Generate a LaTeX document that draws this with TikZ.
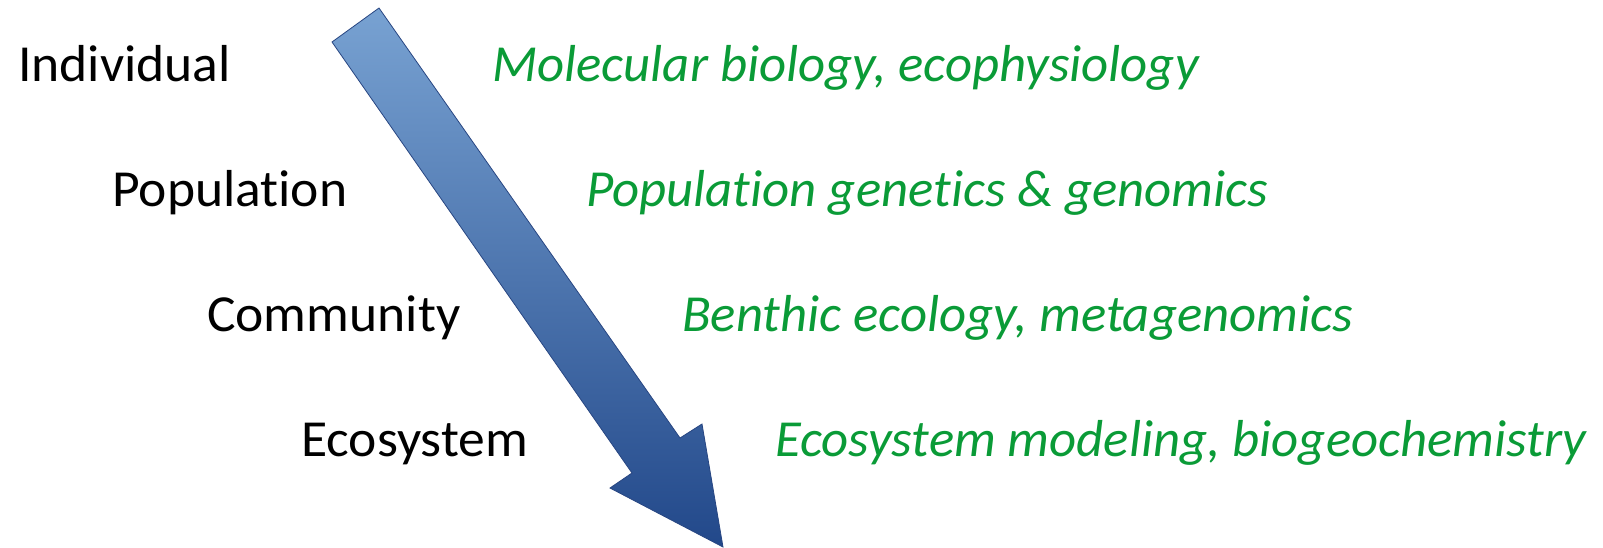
\documentclass[tikz,border=0pt]{standalone}
\usepackage{fontspec}
\setmainfont{Carlito}
\newfontfamily\lvlfont[FakeStretch=1.03,Ligatures={NoCommon,NoRare,NoContextual},Contextuals={NoAlternate}]{Carlito}
\newfontfamily\fldfont[FakeStretch=1.015,Ligatures={NoCommon,NoRare,NoContextual},Contextuals={NoAlternate}]{Carlito}
\definecolor{lvlgreen}{RGB}{10,155,55}
\definecolor{arrtop}{RGB}{120,162,210}
\definecolor{arrbot}{RGB}{34,72,138}
\definecolor{arredge}{RGB}{40,70,130}
\begin{document}
\begin{tikzpicture}[x=1pt,y=-1pt,
  level/.style={anchor=base west,inner sep=0pt,font=\lvlfont\fontsize{52}{60}\selectfont,text=black},
  field/.style={anchor=base west,inner sep=0pt,font=\fldfont\fontsize{52}{60}\selectfont\itshape,text=lvlgreen}]
\useasboundingbox (0,0) rectangle (1603,547);
\shade[top color=arrtop,bottom color=arrbot,draw=arredge,line width=0.8pt]
  (332,42) -- (379,8) -- (680,438) -- (702,424) -- (723,547) -- (610,488) -- (632,473) -- cycle;
\node[level] (ind) at (18,81) {Individual};
\node[level] (pop) at (112,206) {Population};
\node[level] (com) at (207,331) {Community};
\node[level] (eco) at (301,456) {Ecosystem};
\node[field] (mol) at (492,81) {Molecular biology, ecophysiology};
\node[field] (gen) at (586,206) {Population genetics \& genomics};
\node[field] (ben) at (682,331) {Benthic ecology, metagenomics};
\node[field] (mod) at (775,456) {Ecosystem modeling, biogeochemistry};
\end{tikzpicture}
\end{document}
